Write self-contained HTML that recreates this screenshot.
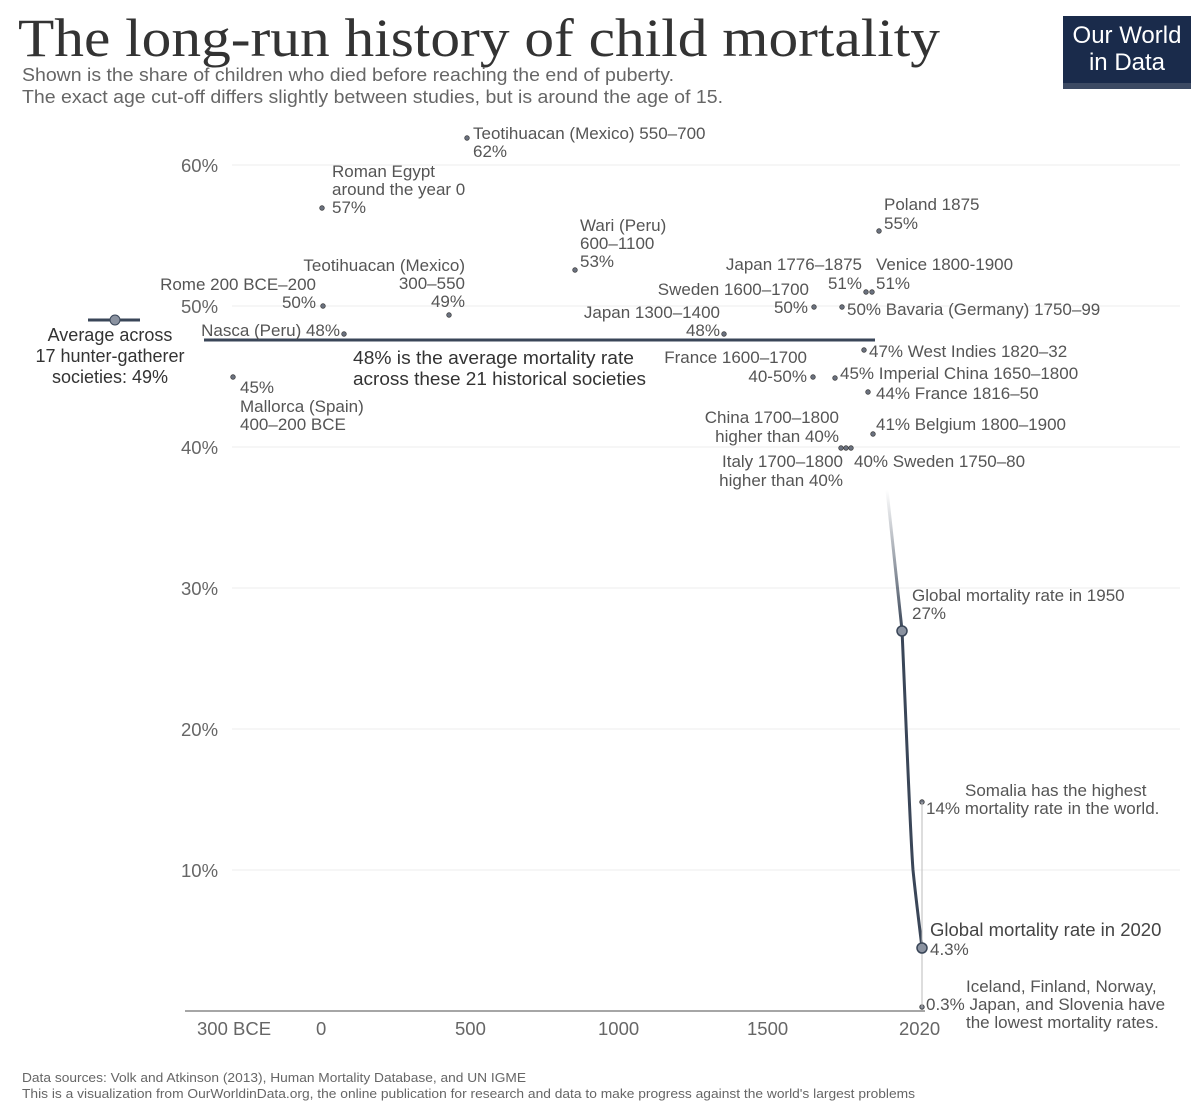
<!DOCTYPE html>
<html><head><meta charset="utf-8"><style>
html,body{margin:0;padding:0;background:#fff;width:1200px;height:1105px;overflow:hidden}
svg{display:block}
text{font-family:"Liberation Sans",sans-serif;font-size:17px;fill:#555}
.b{fill:#333;font-size:18px}
.t{fill:#666;font-size:18.5px}
</style></head><body>
<svg width="1200" height="1105" viewBox="0 0 1200 1105">
<defs><linearGradient id="g" x1="0" y1="0" x2="0" y2="1"><stop offset="0" stop-color="#3a4658" stop-opacity="0"/><stop offset="1" stop-color="#3a4658"/></linearGradient></defs>
<text x="18" y="56" textLength="922" lengthAdjust="spacingAndGlyphs" style="font-family:'Liberation Serif',serif;font-size:54px;fill:#333">The long-run history of child mortality</text>
<text x="22" y="81" textLength="652" lengthAdjust="spacingAndGlyphs" style="font-size:18px;fill:#666">Shown is the share of children who died before reaching the end of puberty.</text>
<text x="22" y="103" textLength="701" lengthAdjust="spacingAndGlyphs" style="font-size:18px;fill:#666">The exact age cut-off differs slightly between studies, but is around the age of 15.</text>
<rect x="1063" y="16" width="128" height="73" fill="#1a2b4b"/>
<rect x="1063" y="83" width="128" height="6" fill="#3c4a63"/>
<text x="1127" y="43" text-anchor="middle" style="fill:#fff;font-size:24px">Our World</text>
<text x="1127" y="70" text-anchor="middle" style="fill:#fff;font-size:24px">in Data</text>
<g stroke="#eee" stroke-width="1">
<line x1="232" y1="870" x2="1180" y2="870"/><line x1="232" y1="729" x2="1180" y2="729"/><line x1="232" y1="588" x2="1180" y2="588"/><line x1="232" y1="447" x2="1180" y2="447"/><line x1="232" y1="306" x2="1180" y2="306"/><line x1="232" y1="165" x2="1180" y2="165"/>
</g>
<line x1="185" y1="1011" x2="925" y2="1011" stroke="#888" stroke-width="1.5"/>
<g><text x="181" y="172" class="t">60%</text><text x="181" y="313" class="t">50%</text><text x="181" y="454" class="t">40%</text><text x="181" y="595" class="t">30%</text><text x="181" y="736" class="t">20%</text><text x="181" y="877" class="t">10%</text>
<text x="197" y="1035" class="t">300 BCE</text><text x="316" y="1035" class="t">0</text><text x="455" y="1035" class="t">500</text><text x="598" y="1035" class="t">1000</text><text x="747" y="1035" class="t">1500</text><text x="899" y="1035" class="t">2020</text></g>
<line x1="88" y1="320" x2="140" y2="320" stroke="#3a4658" stroke-width="3"/><circle cx="115" cy="320" r="5" fill="#8a92a0" stroke="#3a4658"/>
<text x="110" y="341" text-anchor="middle" class="b">Average across</text>
<text x="110" y="362" text-anchor="middle" class="b">17 hunter-gatherer</text>
<text x="110" y="383" text-anchor="middle" class="b">societies: 49%</text>
<line x1="204" y1="340" x2="875" y2="340" stroke="#3a4658" stroke-width="3"/>
<text x="353" y="364" class="b" textLength="281" lengthAdjust="spacingAndGlyphs">48% is the average mortality rate</text>
<text x="353" y="385" class="b" textLength="293" lengthAdjust="spacingAndGlyphs">across these 21 historical societies</text>
<g fill="#6b7280" stroke="#444" stroke-width="0.8">
<circle cx="467" cy="138" r="2.3"/><circle cx="322" cy="208" r="2.3"/><circle cx="575" cy="270" r="2.3"/><circle cx="879" cy="231" r="2.3"/><circle cx="323" cy="306" r="2.3"/><circle cx="449" cy="315" r="2.3"/><circle cx="344" cy="334" r="2.3"/><circle cx="724" cy="334" r="2.3"/><circle cx="814" cy="307" r="2.3"/><circle cx="842" cy="307" r="2.3"/><circle cx="866" cy="292" r="2.3"/><circle cx="872" cy="292" r="2.3"/><circle cx="864" cy="350" r="2.3"/><circle cx="835" cy="378" r="2.3"/><circle cx="813" cy="377" r="2.3"/><circle cx="868" cy="392" r="2.3"/><circle cx="233" cy="377" r="2.3"/><circle cx="873" cy="434" r="2.3"/><circle cx="841" cy="448" r="2.3"/><circle cx="846" cy="448" r="2.3"/><circle cx="851" cy="448" r="2.3"/><circle cx="922" cy="802" r="2.3"/><circle cx="922" cy="1007" r="2.3"/>
</g>
<text x="473" y="139">Teotihuacan (Mexico) 550–700</text><text x="473" y="157">62%</text>
<text x="332" y="177">Roman Egypt</text><text x="332" y="195">around the year 0</text><text x="332" y="213">57%</text>
<text x="580" y="231">Wari (Peru)</text><text x="580" y="249">600–1100</text><text x="580" y="267">53%</text>
<text x="884" y="210">Poland 1875</text><text x="884" y="229">55%</text>
<text x="465" y="271" text-anchor="end">Teotihuacan (Mexico)</text><text x="465" y="289" text-anchor="end">300–550</text><text x="465" y="307" text-anchor="end">49%</text>
<text x="316" y="290" text-anchor="end">Rome 200 BCE–200</text><text x="316" y="308" text-anchor="end">50%</text>
<text x="862" y="270" text-anchor="end">Japan 1776–1875</text><text x="862" y="289" text-anchor="end">51%</text>
<text x="876" y="270">Venice 1800-1900</text><text x="876" y="289">51%</text>
<text x="809" y="295" text-anchor="end">Sweden 1600–1700</text><text x="808" y="313" text-anchor="end">50%</text>
<text x="847" y="315">50% Bavaria (Germany) 1750–99</text>
<text x="720" y="318" text-anchor="end">Japan 1300–1400</text><text x="720" y="336" text-anchor="end">48%</text>
<text x="340" y="336" text-anchor="end">Nasca (Peru) 48%</text>
<text x="807" y="363" text-anchor="end">France 1600–1700</text><text x="807" y="382" text-anchor="end">40-50%</text>
<text x="869" y="357">47% West Indies 1820–32</text>
<text x="840" y="379">45% Imperial China 1650–1800</text>
<text x="876" y="399">44% France 1816–50</text>
<text x="240" y="393">45%</text><text x="240" y="412">Mallorca (Spain)</text><text x="240" y="430">400–200 BCE</text>
<text x="839" y="423" text-anchor="end">China 1700–1800</text><text x="839" y="442" text-anchor="end">higher than 40%</text>
<text x="876" y="430">41% Belgium 1800–1900</text>
<text x="843" y="467" text-anchor="end">Italy 1700–1800</text><text x="843" y="486" text-anchor="end">higher than 40%</text>
<text x="854" y="467">40% Sweden 1750–80</text>
<path d="M887 490 L902 630" stroke="url(#g)" stroke-width="3" fill="none"/>
<path d="M902 630 C906 720 910 830 913 870 C916 900 920 930 922 948" stroke="#3a4658" stroke-width="3" fill="none"/>
<line x1="922" y1="802" x2="922" y2="1008" stroke="#bbb" stroke-width="1"/>
<circle cx="902" cy="631" r="5" fill="#8a92a0" stroke="#3a4658" stroke-width="1.5"/>
<circle cx="922" cy="948" r="5" fill="#8a92a0" stroke="#3a4658" stroke-width="1.5"/>
<text x="912" y="601">Global mortality rate in 1950</text><text x="912" y="619">27%</text>
<text x="965" y="796">Somalia has the highest</text><text x="926" y="814">14% mortality rate in the world.</text>
<text x="930" y="936" style="font-size:18.5px;fill:#444">Global mortality rate in 2020</text><text x="930" y="955" style="font-size:17px">4.3%</text>
<text x="966" y="992">Iceland, Finland, Norway,</text><text x="926" y="1010">0.3% Japan, and Slovenia have</text><text x="966" y="1028">the lowest mortality rates.</text>
<text x="22" y="1082" textLength="504" lengthAdjust="spacingAndGlyphs" style="font-size:13px;fill:#666">Data sources: Volk and Atkinson (2013), Human Mortality Database, and UN IGME</text>
<text x="22" y="1098" textLength="893" lengthAdjust="spacingAndGlyphs" style="font-size:13px;fill:#666">This is a visualization from OurWorldinData.org, the online publication for research and data to make progress against the world's largest problems</text>
</svg>
</body></html>
